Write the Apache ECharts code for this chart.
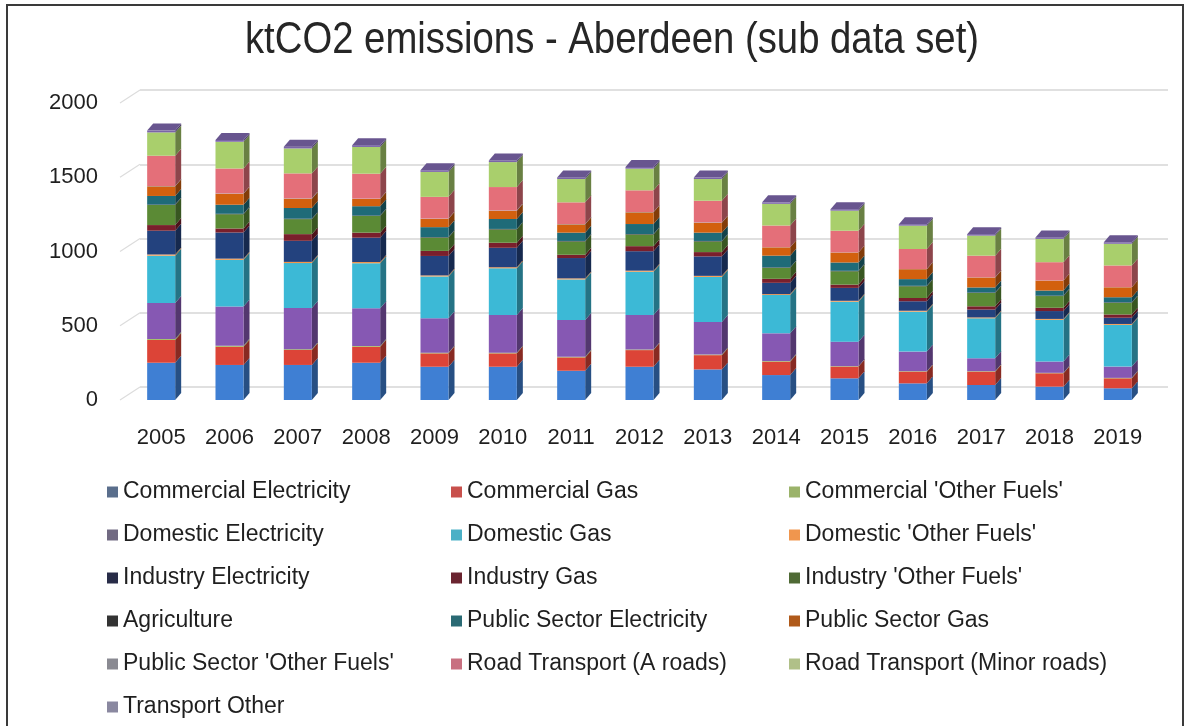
<!DOCTYPE html>
<html>
<head>
<meta charset="utf-8">
<script src="https://cdn.jsdelivr.net/npm/echarts@6/dist/echarts.min.js"></script>
<style>
  html, body { margin: 0; padding: 0; background: #ffffff; }
  #chart { width: 1190px; height: 726px; }
</style>
</head>
<body>
<div id="chart"></div>
<script>
// Aberdeen emissions by sub-sector, ktCO2 per year
const years = ['2005','2006','2007','2008','2009','2010','2011','2012','2013','2014','2015','2016','2017','2018','2019'];

const commercialElectricity  = [251, 236, 236, 251, 224, 224, 197, 224, 206, 168, 146, 112, 101, 90, 79];
const commercialGas          = [153, 123, 101, 108, 90, 90, 90, 112, 96, 90, 79, 79, 90, 90, 67];
const commercialOtherFuels   = [6, 6, 5, 5, 5, 5, 4, 4, 4, 4, 3, 3, 3, 3, 3];
const domesticElectricity    = [243, 265, 277, 254, 232, 254, 247, 232, 220, 187, 165, 132, 87, 76, 76];
const domesticGas            = [319, 314, 303, 303, 281, 314, 274, 292, 303, 258, 269, 269, 269, 281, 281];
const domesticOtherFuels     = [8, 8, 8, 8, 7, 7, 7, 7, 7, 6, 6, 6, 6, 6, 6];
const industryElectricity    = [160, 176, 142, 164, 131, 131, 137, 131, 131, 76, 87, 64, 53, 53, 42];
const industryGas            = [38, 27, 45, 34, 34, 34, 22, 34, 29, 27, 22, 22, 22, 22, 22];
const industryOtherFuels     = [135, 96, 101, 112, 90, 90, 90, 79, 72, 74, 90, 79, 90, 79, 79];
const agriculture            = [3, 3, 3, 3, 3, 3, 3, 3, 3, 3, 3, 3, 3, 3, 3];
const publicSectorElectricity= [58, 61, 72, 63, 67, 67, 56, 67, 56, 79, 56, 45, 34, 34, 34];
const publicSectorGas        = [65, 74, 63, 49, 56, 56, 56, 79, 67, 56, 67, 67, 67, 67, 67];
const publicSectorOtherFuels = [2, 2, 2, 2, 2, 2, 2, 2, 2, 1, 1, 1, 1, 1, 1];
const roadTransportARoads    = [204, 168, 168, 168, 146, 157, 146, 146, 146, 146, 146, 135, 146, 123, 146];
const roadTransportMinor     = [157, 180, 168, 180, 168, 168, 157, 146, 146, 146, 135, 157, 135, 157, 146];
const transportOther         = [12, 12, 12, 12, 11, 11, 11, 11, 10, 10, 10, 10, 10, 10, 10];

const yTicks = [0, 500, 1000, 1500, 2000];

// stacking order (bottom to top), bar face colour, legend key colour
const layers = [
  ['Commercial Electricity',        commercialElectricity,   '#3f7fd3', '#5a6e8c'],
  ['Commercial Gas',                commercialGas,           '#dc4437', '#c8504c'],
  ["Commercial 'Other Fuels'",      commercialOtherFuels,    '#9bbb59', '#9bb36a'],
  ['Domestic Electricity',          domesticElectricity,     '#8658b3', '#716a82'],
  ['Domestic Gas',                  domesticGas,             '#3cb9d6', '#4bb0c6'],
  ["Domestic 'Other Fuels'",        domesticOtherFuels,      '#f79646', '#f0964e'],
  ['Industry Electricity',          industryElectricity,     '#23427e', '#282c48'],
  ['Industry Gas',                  industryGas,             '#7a1f2c', '#6a2430'],
  ["Industry 'Other Fuels'",        industryOtherFuels,      '#5b8a35', '#4f6a35'],
  ['Agriculture',                   agriculture,             '#2e2440', '#333333'],
  ['Public Sector Electricity',     publicSectorElectricity, '#1f6b78', '#2a6a74'],
  ['Public Sector Gas',             publicSectorGas,         '#d2600e', '#b05a1a'],
  ["Public Sector 'Other Fuels'",   publicSectorOtherFuels,  '#7a9cc8', '#8a8a92'],
  ['Road Transport (A roads)',      roadTransportARoads,     '#e46f79', '#c87080'],
  ['Road Transport (Minor roads)',  roadTransportMinor,      '#a9cf6c', '#b0c088'],
  ['Transport Other',               transportOther,          '#7a64a8', '#8a88a0']
];

function shade(color, factor) {
  const c = echarts.color.parse(color);
  return 'rgb(' + [0, 1, 2].map(i => Math.round(c[i] * factor)).join(',') + ')';
}

// 3D-looking prism segment: front face, right side face, and top face on the uppermost layer
function prismRenderer(color, isTop) {
  const sideColor = shade(color, 0.62);
  const topColor = shade(color, 0.85);
  return function (params, api) {
    const idx = api.value(0);
    const lo = api.coord([idx, api.value(1)]);
    const hi = api.coord([idx, api.value(2)]);
    const band = api.size([1, 0])[0];
    const w = band * 0.41;
    const dx = 6, dy = 7;
    const x0 = lo[0] - w / 2, x1 = x0 + w;
    const children = [
      { type: 'polygon', shape: { points: [[x1, hi[1]], [x1 + dx, hi[1] - dy], [x1 + dx, lo[1] - dy], [x1, lo[1]]] },
        style: { fill: sideColor } },
      { type: 'rect', shape: { x: x0, y: hi[1], width: w, height: lo[1] - hi[1] },
        style: { fill: color } }
    ];
    if (isTop) {
      children.push({ type: 'polygon',
        shape: { points: [[x0, hi[1]], [x0 + dx, hi[1] - dy], [x1 + dx, hi[1] - dy], [x1, hi[1]]] },
        style: { fill: topColor } });
    }
    return { type: 'group', children: children };
  };
}

const running = years.map(() => 0);
const series = layers.map(([name, values, color], k) => {
  const data = values.map((v, i) => {
    const base = running[i];
    running[i] += v;
    return [i, base, running[i]];
  });
  return {
    type: 'custom',
    name: name,
    xAxisIndex: 0,
    yAxisIndex: 0,
    z: 3,
    itemStyle: { color: color },
    encode: { x: 0, y: [1, 2] },
    renderItem: prismRenderer(color, k === layers.length - 1),
    data: data
  };
});

// side-wall strokes joining the back-wall gridlines to the front edge
series.push({
  type: 'custom',
  name: 'wall',
  silent: true,
  xAxisIndex: 1,
  yAxisIndex: 1,
  z: 1,
  renderItem: function (params, api) {
    const p = api.coord([0, api.value(0)]);
    return { type: 'line', shape: { x1: p[0], y1: p[1], x2: p[0] - 20, y2: p[1] + 13 },
             style: { stroke: '#dcdcdc', lineWidth: 1.2 } };
  },
  data: yTicks.map(v => [v])
});

const legendKey = (name) => {
  const layer = layers.find(l => l[0] === name);
  return { name: name, itemStyle: { color: layer[3] } };
};
const legendColumns = [
  ['Commercial Electricity', 'Domestic Electricity', 'Industry Electricity', 'Agriculture', "Public Sector 'Other Fuels'", 'Transport Other'],
  ['Commercial Gas', 'Domestic Gas', 'Industry Gas', 'Public Sector Electricity', 'Road Transport (A roads)'],
  ["Commercial 'Other Fuels'", "Domestic 'Other Fuels'", "Industry 'Other Fuels'", 'Public Sector Gas', 'Road Transport (Minor roads)']
];
const legendLeft = [107, 451, 789];

const chart = echarts.init(document.getElementById('chart'), null, { renderer: 'canvas' });
chart.setOption({
  backgroundColor: '#ffffff',
  animation: false,
  legend: legendColumns.map((col, c) => ({
    orient: 'vertical',
    left: legendLeft[c],
    top: 480,
    padding: 0,
    icon: 'rect',
    itemWidth: 11,
    itemHeight: 11,
    itemGap: 19,
    textStyle: { fontFamily: "'Liberation Sans', Arial, sans-serif", fontSize: 23, lineHeight: 24, color: '#1f1f1f' },
    data: col.map(legendKey)
  })),
  grid: [
    { left: 127, right: 38, top: 103, bottom: 326 },
    { left: 140, right: 22, top: 90, bottom: 339 }
  ],
  xAxis: [
    {
      type: 'category', gridIndex: 0, data: years,
      axisLine: { show: false }, axisTick: { show: false },
      axisLabel: { fontFamily: "'Liberation Sans', Arial, sans-serif", fontSize: 22, color: '#1f1f1f', margin: 27 }
    },
    { type: 'value', gridIndex: 1, show: false, min: 0, max: 1 }
  ],
  yAxis: [
    {
      type: 'value', gridIndex: 0, min: yTicks[0], max: yTicks[yTicks.length - 1], interval: 500,
      axisLine: { show: false }, axisTick: { show: false }, splitLine: { show: false },
      axisLabel: { fontFamily: "'Liberation Sans', Arial, sans-serif", fontSize: 22, color: '#1f1f1f', margin: 29,
                   formatter: v => String(v) }
    },
    {
      type: 'value', gridIndex: 1, min: yTicks[0], max: yTicks[yTicks.length - 1], interval: 500,
      axisLine: { show: false }, axisTick: { show: false }, axisLabel: { show: false },
      splitLine: { show: true, lineStyle: { color: '#d6d6d6', width: 1.5 } }
    }
  ],
  graphic: [
    { type: 'text', x: 612, y: 41, scaleX: 0.87, silent: true,
      style: { text: 'ktCO2 emissions - Aberdeen (sub data set)',
               font: "normal 44px 'Liberation Sans', Arial, sans-serif",
               fill: '#262626', align: 'center', verticalAlign: 'middle' } },
    { type: 'rect', z: 100, silent: true,
      shape: { x: 7, y: 5, width: 1176, height: 760 },
      style: { fill: 'none', stroke: '#3a3a3a', lineWidth: 2 } }
  ],
  series: series
});
</script>
</body>
</html>
